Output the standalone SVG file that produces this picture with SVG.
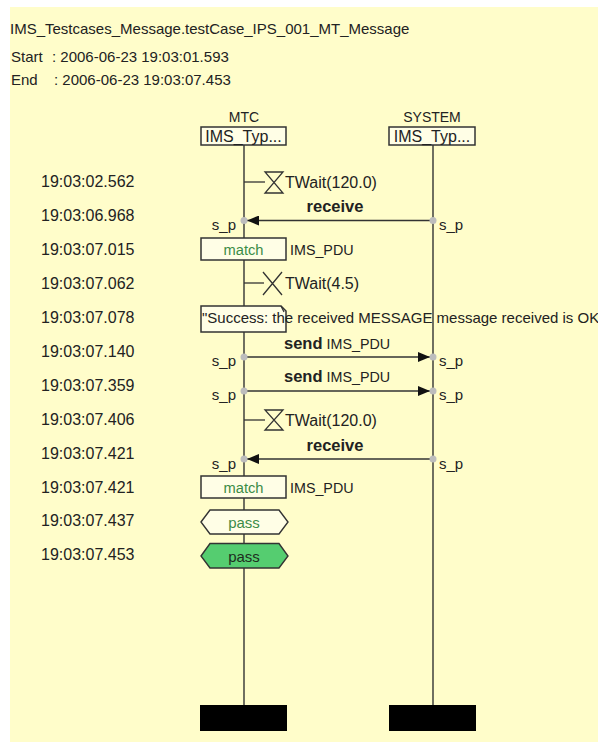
<svg xmlns="http://www.w3.org/2000/svg" width="598" height="742" viewBox="0 0 598 742">
  <defs>
    <style>
      text { font-family: "Liberation Sans", Arial, sans-serif; fill: #222; }
      .hdr { font-size: 15px; }
      .time { font-size: 16px; }
      .inst { font-size: 14px; text-anchor: middle; }
      .typ { font-size: 16px; text-anchor: middle; }
      .lbl { font-size: 16px; }
      .pdu { font-size: 14.3px; }
      .port { font-size: 15px; }
      .bold { font-size: 16.5px; font-weight: bold; }
      .green { font-size: 14.7px; fill: #3c8c46; text-anchor: middle; }
      .verdict { font-size: 15px; text-anchor: middle; }
      .box { fill: #FFFEE6; stroke: #333; stroke-width: 1.5; }
      .life { stroke: #333; stroke-width: 1.4; fill: none; }
      .msg { stroke: #333; stroke-width: 1.3; fill: none; }
      .dot { fill: #bdbdbd; }
      .timer { stroke: #333; stroke-width: 1.3; fill: none; }
      .end { fill: #000; }
    </style>
    <marker id="arr" viewBox="0 0 12 10" refX="12" refY="5" markerWidth="12" markerHeight="10" markerUnits="userSpaceOnUse" orient="auto">
      <path d="M0,0 L12,5 L0,10 Z" fill="#111"/>
    </marker>
  </defs>

  <rect x="0" y="0" width="598" height="742" fill="#ffffff"/>
  <rect x="10" y="7" width="588" height="735" fill="#FFFDCA"/>

  <g id="header">
    <text class="hdr" x="10" y="34">IMS_Testcases_Message.testCase_IPS_001_MT_Message</text>
    <text class="hdr" x="11" y="62">Start</text>
    <text class="hdr" x="52" y="62">: 2006-06-23 19:03:01.593</text>
    <text class="hdr" x="11" y="85">End</text>
    <text class="hdr" x="54" y="85">: 2006-06-23 19:03:07.453</text>
  </g>

  <g id="timestamps">
    <text class="time" x="41" y="187.4">19:03:02.562</text>
    <text class="time" x="41" y="221.3">19:03:06.968</text>
    <text class="time" x="41" y="255.2">19:03:07.015</text>
    <text class="time" x="41" y="289.1">19:03:07.062</text>
    <text class="time" x="41" y="323">19:03:07.078</text>
    <text class="time" x="41" y="356.9">19:03:07.140</text>
    <text class="time" x="41" y="390.8">19:03:07.359</text>
    <text class="time" x="41" y="424.7">19:03:07.406</text>
    <text class="time" x="41" y="458.6">19:03:07.421</text>
    <text class="time" x="41" y="492.5">19:03:07.421</text>
    <text class="time" x="41" y="526.4">19:03:07.437</text>
    <text class="time" x="41" y="560.3">19:03:07.453</text>
  </g>

  <g id="lifeline-MTC">
    <text class="inst" x="244" y="122">MTC</text>
    <line class="life" x1="244" y1="145" x2="244" y2="706"/>
    <rect class="box" x="201" y="127" width="85" height="18"/>
    <text class="typ" x="243.5" y="142">IMS_Typ...</text>
    <rect class="end" x="200" y="705" width="87" height="26"/>
  </g>

  <g id="lifeline-SYSTEM">
    <text class="inst" x="432" y="122">SYSTEM</text>
    <line class="life" x1="433" y1="145" x2="433" y2="706"/>
    <rect class="box" x="389" y="127" width="86" height="18"/>
    <text class="typ" x="432" y="142">IMS_Typ...</text>
    <rect class="end" x="389" y="705" width="87" height="26"/>
  </g>

  <g id="timer-start-1">
    <line class="timer" x1="244" y1="182" x2="265" y2="182"/>
    <path class="timer" d="M265,172 H283 L265,193 H283 Z"/>
    <text class="lbl" x="285" y="188">TWait(120.0)</text>
  </g>

  <g id="match-1">
    <rect class="box" x="201" y="238" width="85" height="22"/>
    <text class="green" x="243.5" y="255">match</text>
    <text class="pdu" x="290" y="255">IMS_PDU</text>
  </g>

  <g id="timer-timeout">
    <line class="timer" x1="244" y1="283" x2="264" y2="283"/>
    <path class="timer" d="M263,272 L282,295 M282,272 L263,295"/>
    <text class="lbl" x="285" y="289">TWait(4.5)</text>
  </g>

  <g id="action">
    <path class="box" d="M201,306 H281 L286,311 V332 H201 Z"/>
    <path class="timer" d="M281,306 L284,312"/>
    <text x="202" y="323" style="font-size:15px">"Success: the received MESSAGE message received is OK</text>
  </g>

  <g id="timer-start-2">
    <line class="timer" x1="244" y1="420" x2="265" y2="420"/>
    <path class="timer" d="M265,410 H283 L265,430 H283 Z"/>
    <text class="lbl" x="285" y="426">TWait(120.0)</text>
  </g>

  <g id="match-2">
    <rect class="box" x="201" y="476" width="85" height="22"/>
    <text class="green" x="243.5" y="493">match</text>
    <text class="pdu" x="290" y="493">IMS_PDU</text>
  </g>

  <g id="verdict-1">
    <path d="M201,522 L210,510 H279 L288,522 L279,534 H210 Z" fill="#FFFEE6" stroke="#333" stroke-width="1.4"/>
    <text class="verdict" x="244" y="527.5" style="fill:#3c8c46">pass</text>
  </g>

  <g id="verdict-2">
    <path d="M201,556 L210,543.5 H279 L288,556 L279,568 H210 Z" fill="#55CD70" stroke="#333" stroke-width="1.4"/>
    <text class="verdict" x="244" y="561.5" style="fill:#1e2e1e">pass</text>
  </g>

  <g id="connectors">
    <g id="msg-receive-1">
      <text class="bold" x="335" y="212" text-anchor="middle">receive</text>
      <line class="msg" x1="433" y1="220.5" x2="247" y2="220.5" marker-end="url(#arr)"/>
      <circle class="dot" cx="244" cy="220.5" r="3.5"/>
      <circle class="dot" cx="433" cy="220.5" r="3.5"/>
      <text class="port" x="236" y="230" text-anchor="end">s_p</text>
      <text class="port" x="439" y="230">s_p</text>
    </g>
    <g id="msg-send-1">
      <text x="284" y="349"><tspan style="font-weight:bold;font-size:16.5px">send</tspan><tspan class="pdu" dx="4">IMS_PDU</tspan></text>
      <line class="msg" x1="244" y1="357" x2="430" y2="357" marker-end="url(#arr)"/>
      <circle class="dot" cx="244" cy="357" r="3.5"/>
      <circle class="dot" cx="433" cy="357" r="3.5"/>
      <text class="port" x="236" y="366" text-anchor="end">s_p</text>
      <text class="port" x="439" y="366">s_p</text>
    </g>
    <g id="msg-send-2">
      <text x="284" y="382"><tspan style="font-weight:bold;font-size:16.5px">send</tspan><tspan class="pdu" dx="4">IMS_PDU</tspan></text>
      <line class="msg" x1="244" y1="391" x2="430" y2="391" marker-end="url(#arr)"/>
      <circle class="dot" cx="244" cy="391" r="3.5"/>
      <circle class="dot" cx="433" cy="391" r="3.5"/>
      <text class="port" x="236" y="400" text-anchor="end">s_p</text>
      <text class="port" x="439" y="400">s_p</text>
    </g>
    <g id="msg-receive-2">
      <text class="bold" x="335" y="451" text-anchor="middle">receive</text>
      <line class="msg" x1="433" y1="459" x2="247" y2="459" marker-end="url(#arr)"/>
      <circle class="dot" cx="244" cy="459" r="3.5"/>
      <circle class="dot" cx="433" cy="459" r="3.5"/>
      <text class="port" x="236" y="468.5" text-anchor="end">s_p</text>
      <text class="port" x="439" y="468.5">s_p</text>
    </g>
  </g>
</svg>
